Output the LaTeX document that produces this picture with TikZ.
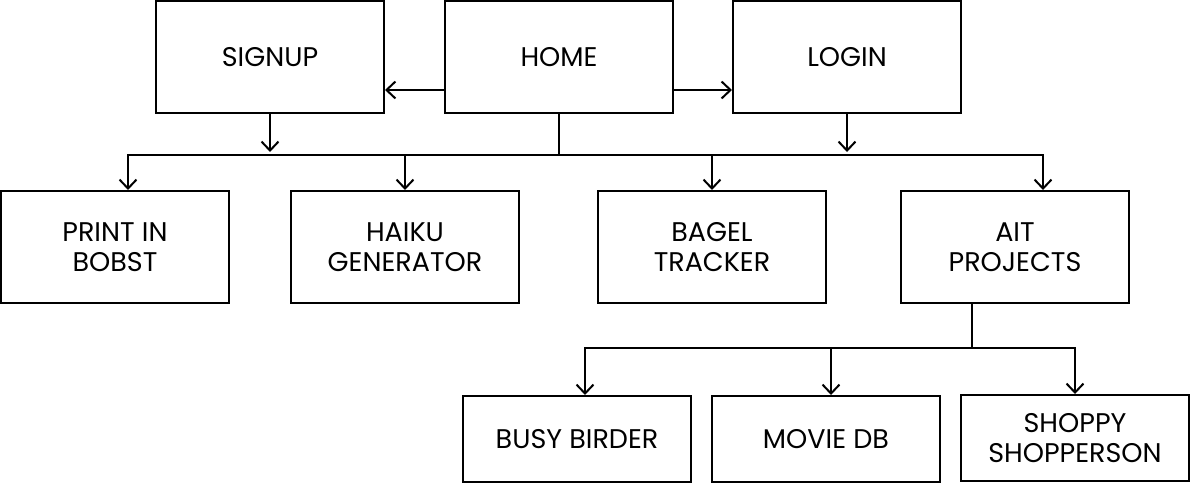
\documentclass[tikz,border=0pt]{standalone}
\usepackage{fontspec}
\setmainfont{Poppins}
\usetikzlibrary{arrows.meta}
\begin{document}
\begin{tikzpicture}[x=1pt,y=-1pt,
  box/.style={draw,line width=2pt,minimum width=228pt,minimum height=112pt,align=center,font=\fontsize{27}{30}\selectfont,inner sep=0pt},
  smallbox/.style={box,minimum height=86pt},
  conn/.style={line width=2pt},
  arr/.style={conn,-{Straight Barb[length=9pt,width=17pt,line width=2pt]}}]
\useasboundingbox (0,0) rectangle (1190,484);
\node[box] (signup) at (270,57) {SIGNUP};
\node[box] (home) at (559,57) {HOME};
\node[box] (login) at (847,57) {LOGIN};
\node[box] (bobst) at (115,247) {PRINT IN\\BOBST};
\node[box] (haiku) at (405,247) {HAIKU\\GENERATOR};
\node[box] (bagel) at (712,247) {BAGEL\\TRACKER};
\node[box] (ait) at (1015,247) {AIT\\PROJECTS};
\node[smallbox] (busy) at (577,439) {BUSY BIRDER};
\node[smallbox] (movie) at (826,439) {MOVIE DB};
\node[smallbox] (shoppy) at (1075,438) {SHOPPY\\SHOPPERSON};
\coordinate (bus) at (559,155);
\coordinate (abus) at (972,348);
\coordinate (sdn) at (270,152);
\coordinate (ldn) at (847,152);
\draw[arr] (home.west |- 0,90) -- (signup.east |- 0,90);
\draw[arr] (home.east |- 0,90) -- (login.west |- 0,90);
\draw[arr] (signup.south) -- (sdn);
\draw[arr] (login.south) -- (ldn);
\draw[conn] (home.south) -- (bus);
\draw[arr] (bus) -| (bobst.north -| 128,0);
\draw[arr] (bus) -| (haiku.north);
\draw[arr] (bus) -| (bagel.north);
\draw[arr] (bus) -| (ait.north -| 1043,0);
\draw[conn] (ait.south -| abus) -- (abus);
\draw[arr] (abus) -| (busy.north -| 585,0);
\draw[arr] (abus) -| (movie.north -| 831,0);
\draw[arr] (abus) -| (shoppy.north);
\end{tikzpicture}
\end{document}
